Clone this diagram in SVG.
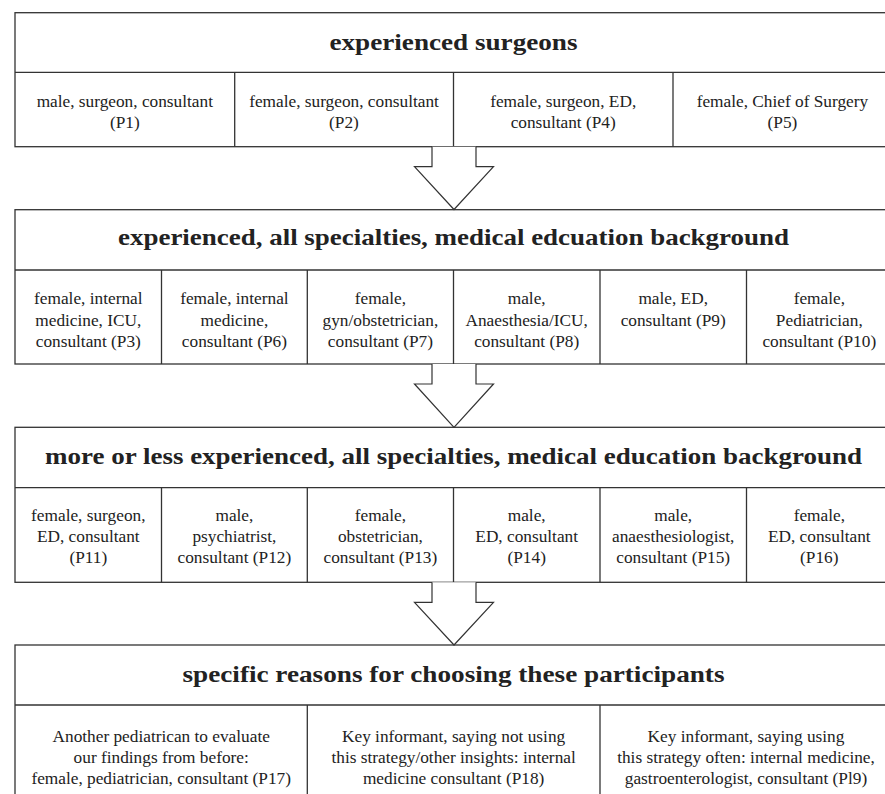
<svg xmlns="http://www.w3.org/2000/svg" width="885" height="794" viewBox="0 0 885 794">
<style>
.box{fill:#fff;stroke:#333;stroke-width:1.3}
.ln{stroke:#333;stroke-width:1.3;fill:none}
.arr{fill:#fff;stroke:#333;stroke-width:1.2;stroke-linejoin:miter}
.h{font-family:"Liberation Serif","Times New Roman",serif;font-weight:bold;font-size:24px;fill:#222;text-anchor:middle}
.t{font-family:"Liberation Serif","Times New Roman",serif;font-size:17.3px;fill:#222;text-anchor:middle}
</style>
<rect width="885" height="794" fill="#fff"/>
<g id="group1">
<rect class="box" x="15" y="12.7" width="877" height="134"/>
<line class="ln" x1="15" y1="72.3" x2="892" y2="72.3"/>
<line class="ln" x1="234.7" y1="72.3" x2="234.7" y2="146.7"/>
<line class="ln" x1="453.5" y1="72.3" x2="453.5" y2="146.7"/>
<line class="ln" x1="673" y1="72.3" x2="673" y2="146.7"/>
<text class="h" x="453.5" y="50" textLength="248" lengthAdjust="spacingAndGlyphs">experienced surgeons</text>
<text class="t" x="124.8" y="107">male, surgeon, consultant</text>
<text class="t" x="124.8" y="128.3">(P1)</text>
<text class="t" x="344" y="107">female, surgeon, consultant</text>
<text class="t" x="344" y="128.3">(P2)</text>
<text class="t" x="563.2" y="107">female, surgeon, ED,</text>
<text class="t" x="563.2" y="128.3">consultant (P4)</text>
<text class="t" x="782.4" y="107">female, Chief of Surgery</text>
<text class="t" x="782.4" y="128.3">(P5)</text>
</g>
<g id="group2">
<rect class="box" x="15" y="209.7" width="877" height="154.3"/>
<line class="ln" x1="15" y1="270" x2="892" y2="270"/>
<line class="ln" x1="161.5" y1="270" x2="161.5" y2="364"/>
<line class="ln" x1="307.3" y1="270" x2="307.3" y2="364"/>
<line class="ln" x1="453.5" y1="270" x2="453.5" y2="364"/>
<line class="ln" x1="600" y1="270" x2="600" y2="364"/>
<line class="ln" x1="746.5" y1="270" x2="746.5" y2="364"/>
<text class="h" x="453.5" y="245" textLength="671" lengthAdjust="spacingAndGlyphs">experienced, all specialties, medical edcuation background</text>
<text class="t" x="88.3" y="304">female, internal</text>
<text class="t" x="88.3" y="325.6">medicine, ICU,</text>
<text class="t" x="88.3" y="347.2">consultant (P3)</text>
<text class="t" x="234.4" y="304">female, internal</text>
<text class="t" x="234.4" y="325.6">medicine,</text>
<text class="t" x="234.4" y="347.2">consultant (P6)</text>
<text class="t" x="380.4" y="304">female,</text>
<text class="t" x="380.4" y="325.6">gyn/obstetrician,</text>
<text class="t" x="380.4" y="347.2">consultant (P7)</text>
<text class="t" x="526.7" y="304">male,</text>
<text class="t" x="526.7" y="325.6">Anaesthesia/ICU,</text>
<text class="t" x="526.7" y="347.2">consultant (P8)</text>
<text class="t" x="673.2" y="304">male, ED,</text>
<text class="t" x="673.2" y="325.6">consultant (P9)</text>
<text class="t" x="819.3" y="304">female,</text>
<text class="t" x="819.3" y="325.6">Pediatrician,</text>
<text class="t" x="819.3" y="347.2">consultant (P10)</text>
</g>
<g id="group3">
<rect class="box" x="15" y="427.3" width="877" height="155"/>
<line class="ln" x1="15" y1="487.7" x2="892" y2="487.7"/>
<line class="ln" x1="161.5" y1="487.7" x2="161.5" y2="582.3"/>
<line class="ln" x1="307.3" y1="487.7" x2="307.3" y2="582.3"/>
<line class="ln" x1="453.5" y1="487.7" x2="453.5" y2="582.3"/>
<line class="ln" x1="600" y1="487.7" x2="600" y2="582.3"/>
<line class="ln" x1="746.5" y1="487.7" x2="746.5" y2="582.3"/>
<text class="h" x="453.5" y="464" textLength="817" lengthAdjust="spacingAndGlyphs">more or less experienced, all specialties, medical education background</text>
<text class="t" x="88.3" y="521">female, surgeon,</text>
<text class="t" x="88.3" y="542.2">ED, consultant</text>
<text class="t" x="88.3" y="563.4">(P11)</text>
<text class="t" x="234.4" y="521">male,</text>
<text class="t" x="234.4" y="542.2">psychiatrist,</text>
<text class="t" x="234.4" y="563.4">consultant (P12)</text>
<text class="t" x="380.4" y="521">female,</text>
<text class="t" x="380.4" y="542.2">obstetrician,</text>
<text class="t" x="380.4" y="563.4">consultant (P13)</text>
<text class="t" x="526.7" y="521">male,</text>
<text class="t" x="526.7" y="542.2">ED, consultant</text>
<text class="t" x="526.7" y="563.4">(P14)</text>
<text class="t" x="673.2" y="521">male,</text>
<text class="t" x="673.2" y="542.2">anaesthesiologist,</text>
<text class="t" x="673.2" y="563.4">consultant (P15)</text>
<text class="t" x="819.3" y="521">female,</text>
<text class="t" x="819.3" y="542.2">ED, consultant</text>
<text class="t" x="819.3" y="563.4">(P16)</text>
</g>
<g id="group4">
<rect class="box" x="15" y="645" width="877" height="170"/>
<line class="ln" x1="15" y1="705" x2="892" y2="705"/>
<line class="ln" x1="307.3" y1="705" x2="307.3" y2="815"/>
<line class="ln" x1="600" y1="705" x2="600" y2="815"/>
<text class="h" x="453.5" y="681.7" textLength="542" lengthAdjust="spacingAndGlyphs">specific reasons for choosing these participants</text>
<text class="t" x="161.2" y="741.7">Another pediatrican to evaluate</text>
<text class="t" x="161.2" y="762.7">our findings from before:</text>
<text class="t" x="161.2" y="783.5">female, pediatrician, consultant (P17)</text>
<text class="t" x="453.6" y="741.7">Key informant, saying not using</text>
<text class="t" x="453.6" y="762.7">this strategy/other insights: internal</text>
<text class="t" x="453.6" y="783.5">medicine consultant (P18)</text>
<text class="t" x="746" y="741.7">Key informant, saying using</text>
<text class="t" x="746" y="762.7">this strategy often: internal medicine,</text>
<text class="t" x="746" y="783.5">gastroenterologist, consultant (Pl9)</text>
</g>
<g id="connectors">
<polyline class="arr" points="432,146.7 432,166.7 414.5,166.7 454,209.5 493.5,166.7 476,166.7 476,146.7"/>
<polyline class="arr" points="432,364 432,384 414.5,384 454,427.3 493.5,384 476,384 476,364"/>
<polyline class="arr" points="432,582.3 432,602.3 414.5,602.3 454,645 493.5,602.3 476,602.3 476,582.3"/>
</g>
</svg>
